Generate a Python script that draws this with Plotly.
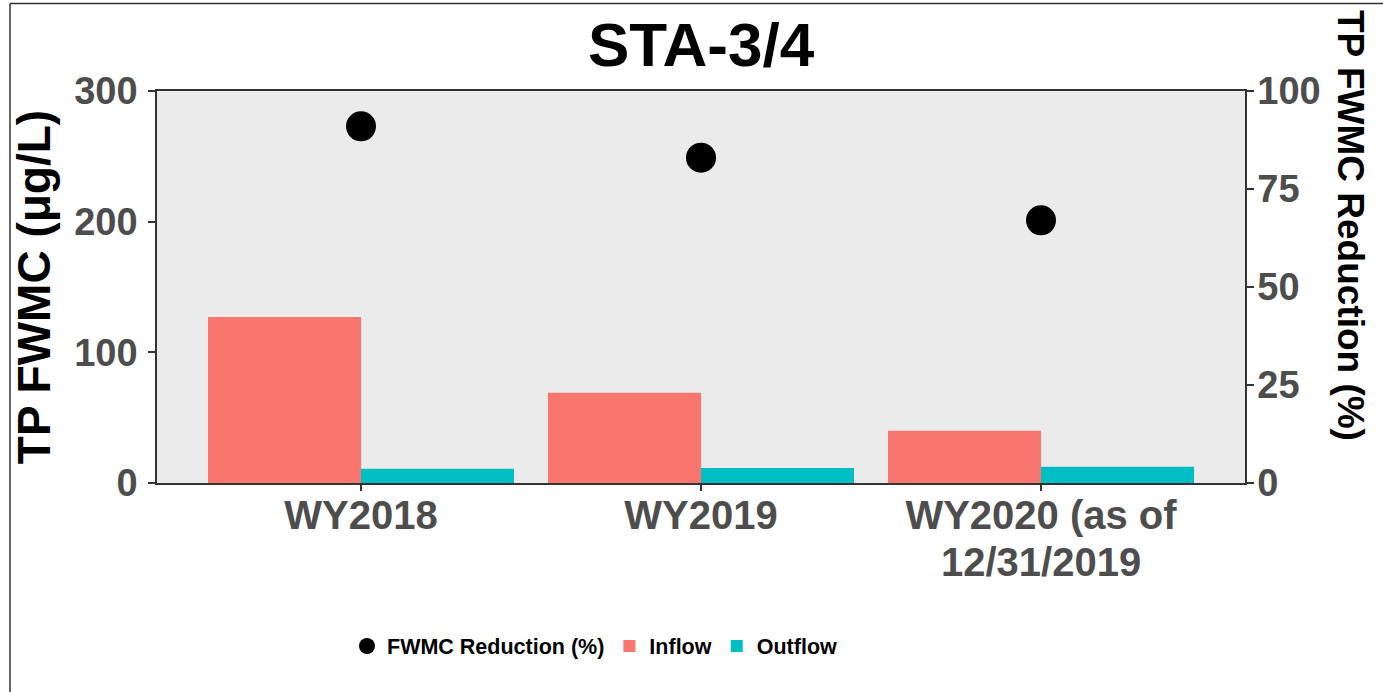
import plotly.graph_objects as go

categories = ["WY2018", "WY2019", "WY2020"]
tick_line1 = ["WY2018", "WY2019", "WY2020 (as of"]
tick_line2 = ["", "", "12/31/2019"]
inflow = [127, 69, 40]
outflow = [11, 11.5, 12.5]
reduction = [91, 83, 67]

W, H = 1383, 692
L, R, T, B = 157, 138, 91, 209
pw, ph = W - L - R, H - T - B

def px_x(x):
    return (x - L) / pw

def px_y(y):
    return (H - B - y) / ph

fig = go.Figure()
fig.add_trace(go.Scatter(
    x=categories, y=reduction, mode="markers", name="FWMC Reduction (%)",
    marker=dict(color="black", size=30), yaxis="y2", cliponaxis=False))
fig.add_trace(go.Bar(x=categories, y=inflow, name="Inflow",
                     marker=dict(color="#F8766D", line=dict(width=0))))
fig.add_trace(go.Bar(x=categories, y=outflow, name="Outflow",
                     marker=dict(color="#00BFC4", line=dict(width=0))))

FAM = "Liberation Sans, Arial"
tickfont_y = dict(family=FAM, size=38, color="#4D4D4D", weight="bold")
xtickfont = dict(family=FAM, size=40, color="#4D4D4D", weight="bold")

annotations = []
for c, t2 in zip(categories, tick_line2):
    if t2:
        annotations.append(dict(
            text=t2, x=c, xref="x", y=px_y(538), yref="paper",
            xanchor="center", yanchor="top", showarrow=False, font=xtickfont))
annotations.append(dict(
    text="<b>TP FWMC Reduction (%)</b>", x=px_x(1351), xref="paper", y=px_y(225), yref="paper",
    xanchor="center", yanchor="middle", textangle=90, showarrow=False,
    font=dict(family=FAM, size=37, color="black")))

fig.update_layout(
    width=W, height=H,
    margin=dict(l=L, r=R, t=T, b=B, autoexpand=False),
    paper_bgcolor="white", plot_bgcolor="#EBEBEB",
    barmode="group", bargap=0.1, bargroupgap=0,
    font=dict(family=FAM, color="black"),
    title=dict(text="<b>STA-3/4</b>", x=701 / W, xanchor="center",
               y=(H - 44) / H, yanchor="middle", yref="container",
               font=dict(size=62, color="black", family=FAM)),
    xaxis=dict(
        type="category", range=[-0.6, 2.6], showgrid=False, zeroline=False,
        showline=True, linecolor="#333333", linewidth=1.5, mirror=True,
        ticks="outside", ticklen=6, tickcolor="#333333", tickwidth=1.5,
        ticklabelstandoff=-10, tickvals=categories, ticktext=tick_line1,
        tickfont=xtickfont,
    ),
    yaxis=dict(
        range=[0, 300], tickvals=[0, 100, 200, 300], showgrid=False, zeroline=False,
        showline=True, linecolor="#333333", linewidth=1.5,
        ticks="outside", ticklen=7, tickcolor="#333333", tickwidth=1.5,
        tickfont=tickfont_y, ticklabelstandoff=3,
        title=dict(text="<b>TP FWMC (μg/L)</b>", standoff=9,
                   font=dict(family=FAM, size=46, color="black")),
    ),
    yaxis2=dict(
        range=[0, 100], tickvals=[0, 25, 50, 75, 100], overlaying="y", side="right",
        showgrid=False, zeroline=False,
        showline=True, linecolor="#333333", linewidth=1.5,
        ticks="outside", ticklen=7, tickcolor="#333333", tickwidth=1.5,
        tickfont=tickfont_y, ticklabelstandoff=-4,
    ),
    legend=dict(orientation="h", x=px_x(347), xanchor="left", y=px_y(646), yanchor="middle",
                font=dict(family=FAM, size=21.5, color="black", weight="bold"),
                bgcolor="rgba(0,0,0,0)", traceorder="normal", itemsizing="trace"),
    annotations=annotations,
    shapes=[
        dict(type="line", xref="paper", yref="paper", x0=px_x(10), x1=px_x(10),
             y0=px_y(H + 5), y1=px_y(3.5), line=dict(color="#333333", width=1.5)),
        dict(type="line", xref="paper", yref="paper", x0=px_x(10), x1=px_x(W + 5),
             y0=px_y(3.5), y1=px_y(3.5), line=dict(color="#333333", width=1.5)),
    ],
)

fig.write_html("out.html", config={"displayModeBar": False},
               post_script="document.body.style.margin='0';")
